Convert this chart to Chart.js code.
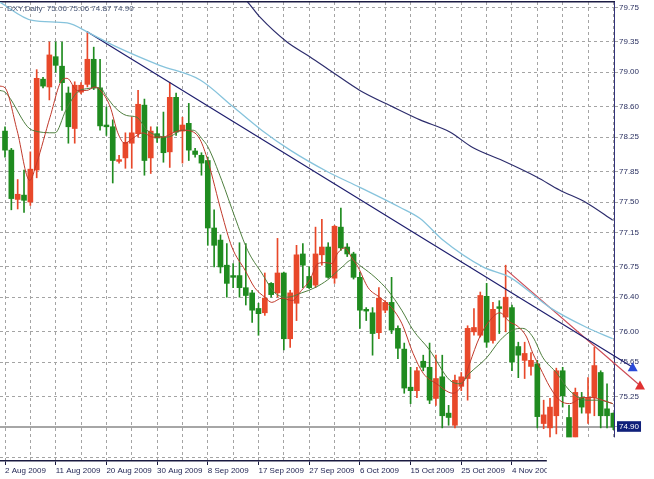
<!DOCTYPE html>
<html>
<head>
<meta charset="utf-8">
<title>DXY Daily</title>
<script src="https://cdn.jsdelivr.net/npm/chart.js@4.4.1/dist/chart.umd.min.js"></script>
<style>
  html, body { margin: 0; padding: 0; background: #fff; }
  #wrap { position: relative; width: 654px; height: 479px; }
  #hd {
    position: absolute; left: 7px; top: 4px;
    font: 8px "Liberation Sans", Arial, sans-serif;
    color: #4a5878; white-space: pre; line-height: 10px;
  }
</style>
</head>
<body>
<div id="wrap">
  <canvas id="myChart" width="654" height="479"></canvas>
  <div id="hd">DXY,Daily  75.06 75.06 74.87 74.90</div>
</div>
<script>
// daily candles, one per bar index (0 = 2 Aug 2009)
const opens  = [78.32,78.10,77.53,77.58,77.50,77.87,78.92,78.83,79.18,79.07,78.76,78.35,78.77,78.86,79.15,78.82,78.39,78.37,77.97,78.01,
                78.18,78.29,78.62,78.01,78.29,78.25,78.08,78.71,78.32,78.41,78.09,78.04,77.98,77.20,77.06,76.77,76.65,76.65,76.51,76.45,
                76.27,76.22,76.56,76.45,76.68,75.92,76.33,76.90,76.64,76.54,76.89,76.98,76.62,77.21,76.98,76.90,76.63,76.26,76.22,75.99,
                76.25,76.34,76.04,75.80,75.36,75.32,75.66,75.59,75.23,75.48,75.06,74.92,75.37,75.46,76.00,75.96,76.41,75.90,76.29,76.17,
                76.28,75.83,75.67,75.60,75.63,74.94,74.89,75.03,75.55,75.01,74.78,75.24,75.06,75.24,75.53,75.11,75.06];
const highs  = [78.37,78.12,77.76,77.87,78.08,79.03,78.94,79.35,79.35,79.35,78.83,78.89,78.88,79.47,79.29,79.15,78.60,78.45,78.04,78.30,
                78.48,78.79,78.69,78.37,78.37,78.54,78.88,78.76,78.48,78.64,78.12,78.07,78.02,77.41,77.12,77.02,76.79,77.03,77.02,76.48,
                76.33,76.68,76.57,77.08,76.69,76.48,77.00,77.02,76.75,77.21,77.30,77.03,77.23,77.43,77.02,76.92,76.69,76.28,76.28,76.51,
                76.36,76.63,76.07,75.87,75.59,75.59,75.73,75.87,75.73,75.73,75.15,75.50,75.53,76.07,76.27,76.46,76.56,76.34,76.36,76.77,
                76.31,75.88,75.88,75.76,75.67,75.21,75.23,75.58,75.59,75.15,75.35,75.30,75.47,75.82,75.55,75.40,75.06];
const lows   = [78.02,77.41,77.42,77.38,77.46,77.78,78.82,78.68,79.00,78.56,78.18,78.18,78.75,78.83,78.80,78.33,78.27,77.72,77.95,77.89,
                77.89,78.25,77.81,77.83,78.19,77.96,77.90,78.27,77.95,77.98,78.02,77.81,77.00,76.75,76.68,76.40,76.51,76.40,76.31,76.11,
                75.96,76.19,76.40,76.40,75.79,75.82,76.13,76.51,76.50,76.51,76.77,76.62,76.56,76.94,76.87,76.61,76.04,76.13,75.73,75.92,
                76.22,75.98,75.69,75.29,75.17,75.24,75.55,75.17,75.15,74.89,74.92,74.89,75.32,75.21,75.96,75.94,75.82,75.87,75.98,76.00,
                75.55,75.47,75.46,75.50,74.89,74.88,74.78,74.82,75.13,74.74,74.74,75.06,74.94,75.03,74.89,74.89,74.87];
const closes = [78.10,77.54,77.59,77.52,77.88,78.93,78.84,79.20,79.08,78.88,78.37,78.85,78.85,79.15,78.82,78.38,78.37,77.98,77.99,78.19,
                78.30,78.63,77.98,78.32,78.24,78.07,78.71,78.31,78.39,78.10,78.05,77.95,77.20,77.00,76.75,76.56,76.63,76.51,76.42,76.25,
                76.21,76.39,76.43,76.68,75.92,76.45,76.89,76.77,76.51,76.90,76.98,76.63,77.22,76.97,76.90,76.63,76.25,76.24,75.98,76.39,
                76.34,76.02,75.81,75.35,75.32,75.55,75.59,75.21,75.46,75.03,75.01,75.44,75.48,76.04,76.05,76.42,75.88,76.26,76.27,76.40,
                75.65,75.73,75.75,75.67,75.02,75.04,75.13,75.55,75.26,74.75,75.30,75.13,75.24,75.61,75.03,75.03,74.90];

// moving averages: [bar index, price]
const maFast = [[-0.8,78.84],[0,78.82],[1.9,78.33],[3.9,77.75],[5,77.95],[7.1,78.48],[9,78.91],[9.8,78.93],[11.4,78.79],[12.9,78.79],
                [14.2,78.83],[15.3,78.77],[16.6,78.60],[17.8,78.30],[18.9,78.18],[20.2,78.24],[21.8,78.30],[23.3,78.25],[24.9,78.25],
                [26.5,78.30],[27.9,78.33],[29.7,78.31],[30.8,78.22],[32,77.98],[34.2,77.37],[35.8,76.98],[37.9,76.71],[39.4,76.51],
                [41,76.40],[42.1,76.34],[43.7,76.39],[45.3,76.36],[46.8,76.48],[48.1,76.60],[49.4,76.79],[50.5,76.80],[51.6,76.79],
                [52.5,76.91],[53.6,76.97],[54.7,76.86],[55.7,76.75],[57.3,76.51],[59.1,76.40],[61,76.28],[62.6,76.10],[64.4,75.75],
                [66,75.52],[68.1,75.40],[70.7,75.29],[72.2,75.40],[73.3,75.63],[74.9,75.94],[76.5,76.13],[78.1,76.22],[79.7,76.11],
                [80.8,76.07],[82.3,75.94],[83.3,75.75],[84.4,75.59],[86,75.36],[87.5,75.21],[89.1,75.17],[91.2,75.24],[92.7,75.24],
                [94.3,75.21],[95.9,75.17]];
const maSlow = [[-0.8,78.79],[0,78.77],[4.3,78.33],[7.9,78.30],[9.6,78.56],[11.4,78.77],[12.9,78.81],[15,78.82],[16.1,78.71],
                [17.4,78.59],[19.2,78.50],[20.8,78.48],[22.4,78.33],[24,78.27],[25.6,78.25],[28.1,78.33],[29.7,78.33],[31.2,78.22],
                [32,78.14],[34.2,77.75],[36.3,77.32],[38.3,76.94],[40.5,76.68],[42.6,76.45],[44.6,76.40],[46.8,76.45],[48.9,76.51],
                [50.9,76.60],[53.2,76.75],[54.7,76.83],[56.3,76.75],[58.4,76.63],[60.4,76.48],[62.6,76.25],[64.4,76.02],[67,75.79],
                [70.2,75.44],[71.8,75.40],[73.3,75.52],[76,75.70],[78.1,75.90],[80.1,76.02],[81.7,76.04],[83.3,75.94],[84.9,75.70],
                [87.1,75.52],[89.1,75.32],[91.8,75.21],[93.8,75.21],[95.9,75.17]];
const maLong = [[-0.8,79.81],[4.3,79.60],[9.8,79.57],[13.4,79.45],[17.7,79.29],[24.4,79.08],[30.8,78.91],[36,78.60],[40.5,78.33],
                [45,78.10],[50.9,77.85],[56,77.67],[62.3,77.44],[65.5,77.31],[69.1,77.06],[75.4,76.75],[79.7,76.63],[86,76.28],
                [91.8,76.05],[95.9,75.92]];
const maVeryLong = [[35.8,79.93],[37.9,79.84],[40.2,79.64],[44.5,79.35],[48.1,79.18],[51.7,79.00],[56,78.79],[61.2,78.60],
                    [65.5,78.45],[70.2,78.31],[73.8,78.13],[78.5,77.98],[83.9,77.79],[87.5,77.64],[91.8,77.49],[95.9,77.29]];

// drawn trend lines: [bar index, price]
const trendBlue = [[12.9,79.47],[99.05,75.59]];
const trendRed  = [[79.2,76.71],[100.2,75.38]];
const lastPrice = 74.90;

// axes
const priceTicks = [79.75,79.35,79.00,78.60,78.25,77.85,77.50,77.15,76.75,76.40,76.00,75.65,75.25,74.90,74.55];
const priceLabelHidden = [74.55];
const gridBars = [0,4,8,12,16,20,24,28,32,36,40,44,48,52,56,60,64,68,72,76,80,84,88,92,96];
const dateLabels = {0:'2 Aug 2009', 8:'11 Aug 2009', 16:'20 Aug 2009', 24:'30 Aug 2009', 32:'8 Sep 2009', 40:'17 Sep 2009',
                    48:'27 Sep 2009', 56:'6 Oct 2009', 64:'15 Oct 2009', 72:'25 Oct 2009', 80:'4 Nov 2009'};
const xMin = -0.79, xMax = 96.1;
const yMin = 74.507, yMax = 79.812;

// the screenshot has a blank patch in the lower right corner
const patchFromBar = 85.5, patchFromPrice = 74.78;

const upColor = '#e8482a';
const downColor = '#1f8b1f';
const axisFont = { family: '"Liberation Sans", Arial, sans-serif', size: 8 };

const candleColors = opens.map((o, i) => closes[i] >= o ? upColor : downColor);
const toXY = arr => arr.map(p => ({ x: p[0], y: p[1] }));

const coverPatch = {
    id: 'coverPatch',
    afterDraw(chart) {
        const { ctx, scales } = chart;
        const x0 = scales.x.getPixelForValue(patchFromBar);
        const y0 = scales.y.getPixelForValue(patchFromPrice);
        ctx.save();
        ctx.fillStyle = '#ffffff';
        ctx.fillRect(x0, y0, chart.width - x0, chart.height - y0);
        ctx.restore();
    }
};

// arrow heads at the end of the trend lines (they sit past the plot edge)
const trendArrows = {
    id: 'trendArrows',
    afterDatasetsDraw(chart) {
        const ctx = chart.ctx;
        chart.data.datasets.forEach((ds, di) => {
            if (!ds.arrowColor) return;
            const meta = chart.getDatasetMeta(di);
            const p = meta.data[meta.data.length - 1];
            ctx.save();
            ctx.fillStyle = ds.arrowColor;
            ctx.beginPath();
            ctx.moveTo(p.x, p.y - 5);
            ctx.lineTo(p.x + 5, p.y + 4);
            ctx.lineTo(p.x - 5, p.y + 4);
            ctx.closePath();
            ctx.fill();
            ctx.restore();
        });
    }
};

const lineDs = (label, pts, color, width) => ({
    type: 'line', label, data: toXY(pts), borderColor: color, borderWidth: width,
    pointRadius: 0, cubicInterpolationMode: 'monotone', fill: false, order: 0
});

const ctx = document.getElementById('myChart').getContext('2d');
new Chart(ctx, {
    type: 'bar',
    data: {
        datasets: [
            lineDs('MA fast', maFast, '#c0392b', 1),
            lineDs('MA slow', maSlow, '#4f7f3f', 1),
            lineDs('MA long', maLong, '#86c3dc', 1.3),
            lineDs('MA very long', maVeryLong, '#2c2c6c', 1.2),
            {
                type: 'line', label: 'trend blue', data: toXY(trendBlue), borderColor: '#1e1e6e', borderWidth: 1.2,
                pointRadius: 0, arrowColor: '#2a4ad8', clip: false, order: 0
            },
            {
                type: 'line', label: 'trend red', data: toXY(trendRed), borderColor: '#cc4a55', borderWidth: 1.2,
                pointRadius: 0, arrowColor: '#e03030', clip: false, order: 0
            },
            {
                type: 'bar', label: 'body',
                data: opens.map((o, i) => ({ x: i, y: [o, closes[i]] })),
                backgroundColor: candleColors, borderWidth: 0,
                barThickness: 5, minBarLength: 1, grouped: false, order: 1
            },
            {
                type: 'bar', label: 'wick',
                data: lows.map((l, i) => ({ x: i, y: [l, highs[i]] })),
                backgroundColor: candleColors, borderWidth: 0,
                barThickness: 1, grouped: false, order: 2
            },
            {
                type: 'line', label: 'last', data: [{ x: xMin, y: lastPrice }, { x: xMax, y: lastPrice }],
                borderColor: '#a6a6a6', borderWidth: 2, pointRadius: 0, order: 3
            }
        ]
    },
    options: {
        responsive: false,
        animation: false,
        layout: { autoPadding: false, padding: { top: 2, left: 0, right: 0, bottom: 0 } },
        plugins: { legend: { display: false }, tooltip: { enabled: false }, title: { display: false } },
        scales: {
            x: {
                type: 'linear', position: 'bottom', min: xMin, max: xMax, offset: false,
                afterBuildTicks: s => { s.ticks = gridBars.map(v => ({ value: v })); },
                afterFit: s => { s.height = 18; s.paddingLeft = 0; s.paddingRight = 0; },
                grid: {
                    offset: false, color: '#a4a4a4', lineWidth: 1, drawTicks: true, tickLength: 4,
                    tickColor: c => (c.tick && dateLabels[c.tick.value] !== undefined) ? '#1a1a40' : 'rgba(0,0,0,0)'
                },
                border: { display: true, color: '#1a1a40', width: 1.5, dash: [3, 3] },
                ticks: {
                    autoSkip: false, maxRotation: 0, align: 'start', padding: 1,
                    font: axisFont, color: '#1c2050',
                    callback: v => dateLabels[v] || ''
                }
            },
            xTop: {
                type: 'linear', position: 'top', min: xMin, max: xMax, display: true,
                afterFit: s => { s.height = 0; s.paddingLeft = 0; s.paddingRight = 0; },
                grid: { display: false, drawTicks: false },
                border: { display: true, color: '#1c1c44', width: 1.5 },
                ticks: { display: false }
            },
            y: {
                type: 'linear', position: 'right', min: yMin, max: yMax,
                afterBuildTicks: s => { s.ticks = priceTicks.map(v => ({ value: v })); },
                afterFit: s => { s.width = 40; s.paddingTop = 0; s.paddingBottom = 0; },
                grid: { color: '#a4a4a4', lineWidth: 1, drawTicks: true, tickLength: 4, tickColor: '#a4a4a4' },
                border: { display: true, color: '#34347a', width: 1, dash: [3, 3] },
                ticks: {
                    padding: 1, font: axisFont,
                    color: c => (c.tick && c.tick.value === lastPrice) ? '#ffffff' : '#2a3060',
                    showLabelBackdrop: c => !!(c.tick && c.tick.value === lastPrice),
                    backdropColor: '#10207a', backdropPadding: { top: 1, bottom: 0, left: 2, right: 2 },
                    callback: v => priceLabelHidden.includes(v) ? '' : v.toFixed(2)
                }
            }
        }
    },
    plugins: [coverPatch, trendArrows]
});
</script>
</body>
</html>
